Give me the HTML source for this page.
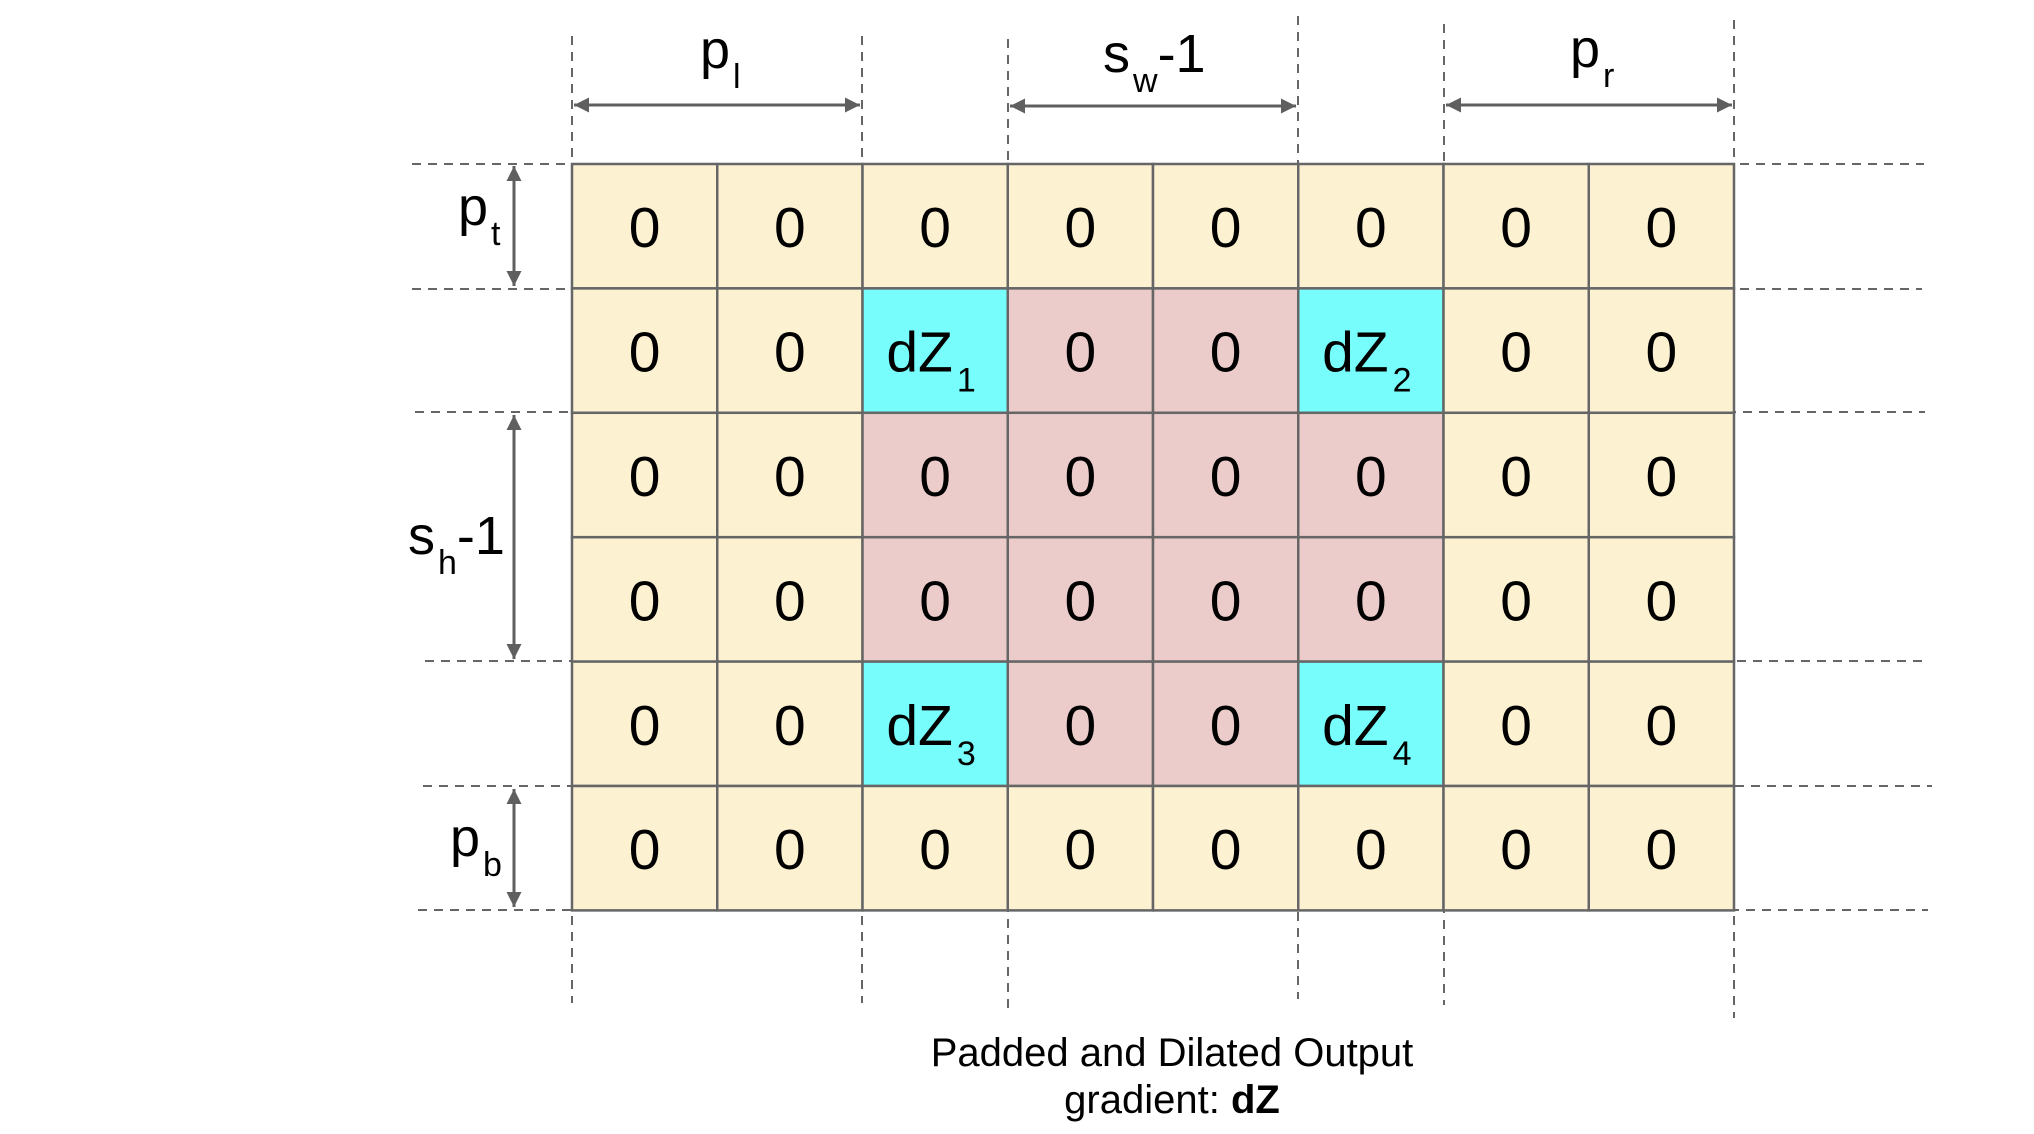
<!DOCTYPE html>
<html><head><meta charset="utf-8"><style>
html,body{margin:0;padding:0;background:#fff;width:2034px;height:1134px;overflow:hidden}
svg{display:block;font-family:"Liberation Sans",Arial,sans-serif}
</style></head><body>
<svg id="d" width="2034" height="1134" viewBox="0 0 2034 1134" xmlns="http://www.w3.org/2000/svg">
<defs>
<marker id="ah" viewBox="0 0 10 10" refX="10" refY="5" markerWidth="6" markerHeight="5" orient="auto-start-reverse" markerUnits="strokeWidth"><path d="M0,0 L10,5 L0,10 z" fill="#5f5f5f"/></marker>
</defs>
<g id="dashes"></g>
<g id="grid"></g>
<g id="ann"></g>
<text x="1172" y="1066" font-size="40" text-anchor="middle" fill="#000">Padded and Dilated Output</text>
<text x="1172" y="1113" font-size="40" text-anchor="middle" fill="#000">gradient: <tspan font-weight="bold">dZ</tspan></text>
</svg>
<script>
// cell types: y = padding, p = dilation zero, c = gradient value
const cellTypes = [
 "yyyyyyyy",
 "yycppcyy",
 "yyppppyy",
 "yyppppyy",
 "yycppcyy",
 "yyyyyyyy"
];
const gradLabels = ["1","2","3","4"];
const colX = i => 572 + i*145.25;
const rowY = j => 164 + j*124.4;
const NS="http://www.w3.org/2000/svg";
const colors={y:"#fcf1d1",p:"#ebcccb",c:"#78fdfd"};
function mk(tag,attrs,parent){const e=document.createElementNS(NS,tag);for(const k in attrs)e.setAttribute(k,attrs[k]);parent.appendChild(e);return e;}
const grid=document.getElementById('grid');
let g=0;
for(let r=0;r<6;r++){for(let c=0;c<8;c++){
 const t=cellTypes[r][c];
 const rect=mk('rect',{x:colX(c),y:rowY(r),width:145.25,height:124.4,fill:colors[t],stroke:"#666","stroke-width":2.5},grid);
 
 
 const cx=colX(c)+72.6, cy=rowY(r)+62.2+21;
 const tx=mk('text',{x:cx,y:cy,"font-size":57,"text-anchor":"middle",fill:"#000"},grid);
 
 
 if(t==='c'){
  tx.setAttribute('x',cx-4);
  tx.textContent='dZ';
  const s=mk('tspan',{"font-size":34,dx:4,dy:20},tx);
  s.textContent=gradLabels[g++];
 } else tx.textContent='0';
}}
const dashes=document.getElementById('dashes');
const vLines=[[572,36,1003],[862,36,1003],[1008,39,1009],[1298,16,999],[1444,24,1005],[1734,20,1018]];
vLines.forEach(v=>{const l=mk('line',{x1:v[0],y1:v[1],x2:v[0],y2:v[2],stroke:"#666","stroke-width":2,"stroke-dasharray":"9 7"},dashes);
 
 });
const hLines=[[164,412,1924],[289,412,1922],[412,415,1925],[661,425,1929],[786,423,1932],[910,418,1928]];
hLines.forEach(h=>{const l=mk('line',{x1:h[1],y1:h[0],x2:h[2],y2:h[0],stroke:"#666","stroke-width":2,"stroke-dasharray":"9 7"},dashes);
 
 });
const ann=document.getElementById('ann');
const arrows=[[574,105,860,105],[1010,106,1296,106],[1446,105,1732,105],[514,166,514,286],[514,415,514,659],[514,789,514,907]];
arrows.forEach(a=>{const l=mk('line',{x1:a[0],y1:a[1],x2:a[2],y2:a[3],stroke:"#5f5f5f","stroke-width":3,"marker-start":"url(#ah)","marker-end":"url(#ah)"},ann);
 
 });
const labels=[["p","l",700,68,"label-p-left"],["s","w-1",1103,72,"label-s-w"],["p","r",1570,67,"label-p-right"],["p","t",458,225,"label-p-top"],["s","h-1",408,554,"label-s-h"],["p","b",450,856,"label-p-bottom"]];
labels.forEach(L=>{const t=mk('text',{x:L[2],y:L[3],"font-size":54,fill:"#000"},ann);
 
 
 t.appendChild(document.createTextNode(L[0]));
 const sub=L[1][0], rest=L[1].slice(1);
 const s=mk('tspan',{"font-size":34,dx:3,dy:20},t); s.textContent=sub;
 if(rest){const s2=mk('tspan',{"font-size":54,dy:-20},t); s2.textContent=rest;}
});
</script>
</body></html>
